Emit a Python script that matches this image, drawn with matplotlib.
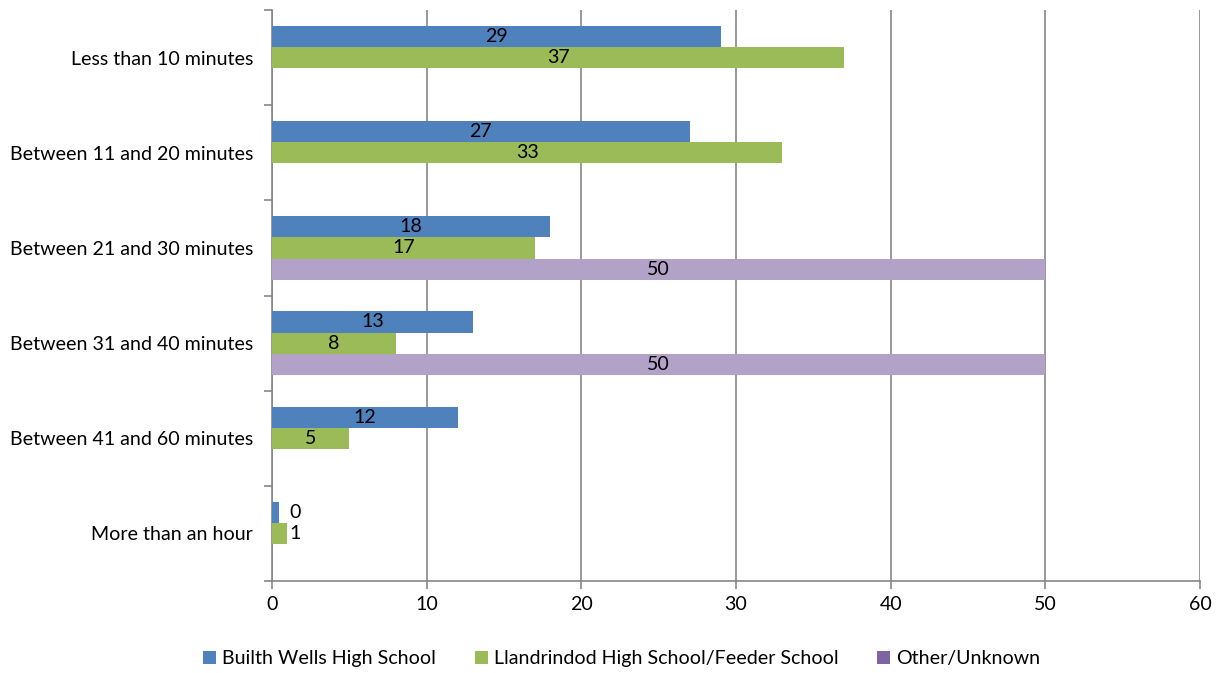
import numpy as np
import matplotlib
matplotlib.use("Agg")
import matplotlib.pyplot as plt
from matplotlib.patches import Patch

plt.rcParams["font.family"] = ["Lato", "DejaVu Sans"]

CATEGORIES = [
    "Less than 10 minutes",
    "Between 11 and 20 minutes",
    "Between 21 and 30 minutes",
    "Between 31 and 40 minutes",
    "Between 41 and 60 minutes",
    "More than an hour",
]
SERIES = [
    "Builth Wells High School",
    "Llandrindod High School/Feeder School",
    "Other/Unknown",
]
BUILTH = [29, 27, 18, 13, 12, 0.45]
LLANDRINDOD = [37, 33, 17, 8, 5, 1]
OTHER = [np.nan, np.nan, 50, 50, np.nan, np.nan]

BAR_COLORS = ["#4F81BD", "#9BBB59", "#B3A2C7"]
LEGEND_COLORS = ["#4F81BD", "#9BBB59", "#8064A2"]
GRID = "#868686"
FS = 14.1

fig = plt.figure(figsize=(12.19, 6.73), dpi=100)
ax = fig.add_axes([0.2231, 0.1367, 0.7613, 0.8484])

y = np.arange(len(CATEGORIES))
h = 1 / 4.5
for k, (vals, color) in enumerate(zip([BUILTH, LLANDRINDOD, OTHER], BAR_COLORS)):
    pos = y + (k - 1) * h
    ax.barh(pos, vals, height=h, color=color, zorder=3)
    for p, v in zip(pos, vals):
        if np.isnan(v):
            continue
        # short bars get their label just past the end
        if v >= 3:
            ax.text(v / 2, p, f"{v:.0f}", ha="center", va="center",
                    fontsize=FS, color="black", zorder=4)
        else:
            ax.text(1.1, p, f"{v:.0f}", ha="left", va="center",
                    fontsize=FS, color="black", zorder=4)

ax.set_ylim(len(CATEGORIES) - 0.5, -0.5)
ax.set_xlim(0, 60)
ax.set_xticks(range(0, 61, 10))
ax.set_yticks(y)
ax.set_yticklabels(CATEGORIES)
ax.set_yticks(np.arange(-0.5, len(CATEGORIES), 1), minor=True)
ax.tick_params(axis="y", which="major", length=0, pad=13.5, labelsize=FS)
ax.tick_params(axis="y", which="minor", length=6, color=GRID, width=1.2)
ax.tick_params(axis="x", length=6, color=GRID, width=1.2, labelsize=FS, pad=5)

ax.grid(axis="x", color=GRID, linewidth=1.2, zorder=0)
for s in ["top", "right"]:
    ax.spines[s].set_visible(False)
for s in ["left", "bottom"]:
    ax.spines[s].set_color(GRID)
    ax.spines[s].set_linewidth(1.2)

handles = [Patch(facecolor=c, label=l) for c, l in zip(LEGEND_COLORS, SERIES)]
fig.legend(handles=handles, loc="center", bbox_to_anchor=(0.51, 0.021), ncol=3,
           frameon=False, fontsize=FS, handlelength=0.65, handleheight=0.65,
           handletextpad=0.3, columnspacing=2.0)

fig.savefig("out.png", dpi=100)
